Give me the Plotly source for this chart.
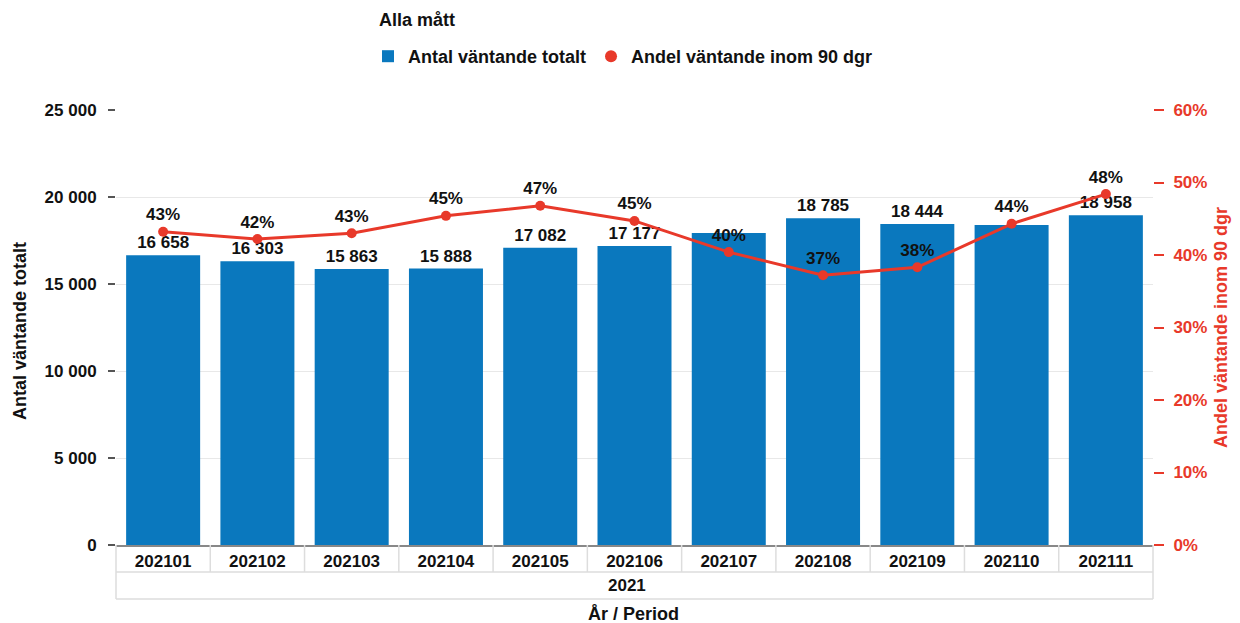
import plotly.graph_objects as go

# ---- data ----
periods = ["202101", "202102", "202103", "202104", "202105", "202106",
           "202107", "202108", "202109", "202110", "202111"]
year_label = "2021"
antal_totalt = [16658, 16303, 15863, 15888, 17082, 17177, 17930, 18785, 18444, 18390, 18958]
andel_90 = [43.2, 42.2, 43.0, 45.4, 46.8, 44.7, 40.4, 37.2, 38.3, 44.3, 48.4]
hidden_bar_labels = ["202107", "202110"]  # labels not shown in the original (overlap)

BLUE = "#0a78be"
RED = "#e8392a"
FONT = "Arial, Liberation Sans, sans-serif"
TXT = "#111111"

bar_text = ["" if p in hidden_bar_labels else f"{v:,}".replace(",", " ")
            for p, v in zip(periods, antal_totalt)]
line_text = [f"{round(v)}%" for v in andel_90]

fig = go.Figure()
fig.add_trace(go.Bar(
    x=periods, y=antal_totalt, name="Antal väntande totalt",
    marker=dict(color=BLUE, line=dict(width=0)),
    text=bar_text, textposition="outside",
    textfont=dict(family=FONT, size=17, color=TXT, weight="bold"),
    cliponaxis=False, yaxis="y",
))
fig.add_trace(go.Scatter(
    x=periods, y=andel_90, name="Andel väntande inom 90 dgr",
    mode="lines+markers+text", yaxis="y2",
    line=dict(color=RED, width=3), marker=dict(color=RED, size=10),
    text=line_text, textposition="top center",
    textfont=dict(family=FONT, size=17, color=TXT, weight="bold"),
    cliponaxis=False, showlegend=False,
))
# legend-only marker entry for the line
fig.add_trace(go.Scatter(
    x=[None], y=[None], name="Andel väntande inom 90 dgr", mode="markers",
    marker=dict(color=RED, size=14, symbol="circle"), yaxis="y2",
))

# table-like borders under the x axis
shapes = []
grid_c = "#dddddd"
row1 = -27 / 435
row2 = -54 / 435
for i in range(len(periods) - 1):
    shapes.append(dict(type="line", xref="x", yref="paper", x0=i + 0.5, x1=i + 0.5,
                       y0=0, y1=row1, line=dict(color=grid_c, width=1.5)))
for yy in (row1, row2):
    shapes.append(dict(type="line", xref="x domain", yref="paper", x0=0, x1=1,
                       y0=yy, y1=yy, line=dict(color=grid_c, width=1.5)))
for xx in (0, 1):
    shapes.append(dict(type="line", xref="x domain", yref="paper", x0=xx, x1=xx,
                       y0=0, y1=row2, line=dict(color=grid_c, width=1.5)))


def px_x(p):
    return (p - 116) / 1037


def px_y(q):
    return (545 - q) / 435


fig.update_layout(
    width=1232, height=615,
    margin=dict(l=108, r=87, t=102, b=78, autoexpand=False),
    paper_bgcolor="white", plot_bgcolor="white",
    font=dict(family=FONT, size=17, color=TXT),
    bargap=0.215,
    shapes=shapes,
    legend=dict(
        orientation="h", x=px_x(368), xanchor="left", y=px_y(38), yanchor="top",
        font=dict(family=FONT, size=18, color=TXT, weight="bold"),
        itemsizing="constant", traceorder="normal",
        tracegroupgap=0, itemwidth=30,
    ),
    xaxis=dict(
        type="category", range=[-0.5, len(periods) - 0.5],
        showgrid=False, showline=True, linecolor="#888888", linewidth=2,
        ticks="", tickfont=dict(family=FONT, size=17, color=TXT, weight="bold"),
        zeroline=False, automargin=False,
    ),
    yaxis=dict(
        range=[0, 25000], tickvals=[0, 5000, 10000, 15000, 20000, 25000],
        ticktext=["0", "5 000", "10 000", "15 000", "20 000", "25 000"],
        showgrid=True, gridcolor="#e8e8e8", gridwidth=1,
        ticks="outside", ticklen=7, tickcolor="#555555", tickwidth=2,
        ticklabelstandoff=8,
        tickfont=dict(family=FONT, size=17, color=TXT, weight="bold"),
        zeroline=False, showline=False, automargin=False,
    ),
    yaxis2=dict(
        range=[0, 60], dtick=10, ticksuffix="%", overlaying="y", side="right",
        showgrid=False, ticks="outside", ticklen=10, tickcolor=RED, tickwidth=2,
        ticklabelstandoff=6,
        tickfont=dict(family=FONT, size=17, color=RED, weight="bold"),
        zeroline=False, showline=False, automargin=False,
    ),
    annotations=[
        dict(text="<b>Alla mått</b>", xref="paper", yref="paper", x=px_x(377), y=px_y(20),
             xanchor="left", yanchor="middle", showarrow=False,
             font=dict(family=FONT, size=18, color=TXT)),
        dict(text="<b>Antal väntande totalt</b>", xref="paper", yref="paper",
             x=px_x(20), y=px_y(331), textangle=-90, showarrow=False,
             xanchor="center", yanchor="middle",
             font=dict(family=FONT, size=18, color=TXT)),
        dict(text="<b>Andel väntande inom 90 dgr</b>", xref="paper", yref="paper",
             x=px_x(1221), y=px_y(328), textangle=-90, showarrow=False,
             xanchor="center", yanchor="middle",
             font=dict(family=FONT, size=18, color=RED)),
        dict(text=f"<b>{year_label}</b>", xref="paper", yref="paper", x=px_x(627), y=(row1 + row2) / 2,
             showarrow=False, font=dict(family=FONT, size=17, color=TXT), yanchor="middle"),
        dict(text="<b>År / Period</b>", xref="paper", yref="paper", x=px_x(633), y=px_y(614),
             showarrow=False, font=dict(family=FONT, size=18, color=TXT), yanchor="middle"),
    ],
)

fig.write_html("out.html")
